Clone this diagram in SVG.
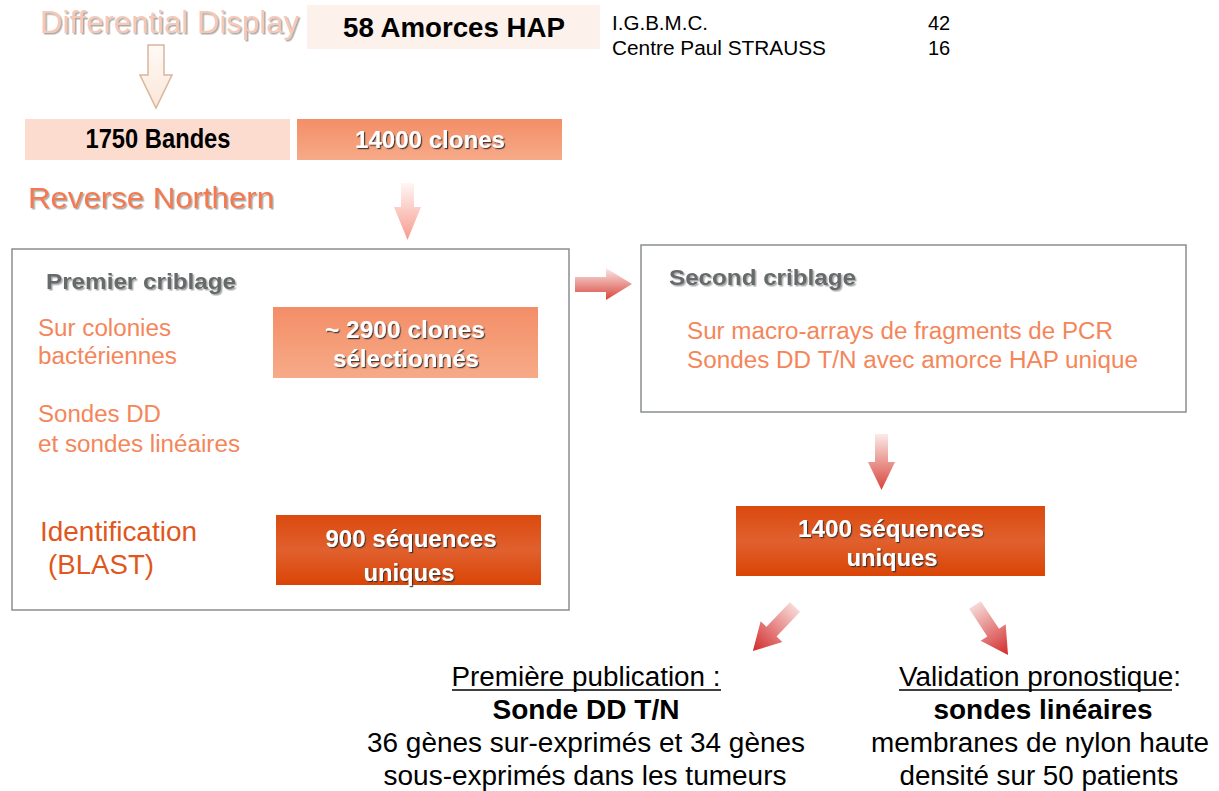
<svg xmlns="http://www.w3.org/2000/svg" width="1219" height="791" viewBox="0 0 1219 791">
<style>
text{font-family:"Liberation Sans",Arial,sans-serif}
.b{font-weight:bold}
.org{fill:#f4865a}
.hdr{fill:#666b6b;font-weight:bold;font-size:22.5px}
.wt{fill:#fff;font-weight:bold;font-size:23px;text-anchor:middle}
.blk{fill:#000;text-anchor:middle;font-size:27px}
.frame{fill:#fff;stroke:#8a8e8e;stroke-width:1.5}
</style>
<defs>
<filter id="sg" x="-5%" y="-20%" width="110%" height="150%"><feDropShadow dx="1.5" dy="1.5" stdDeviation="0.6" flood-color="#888" flood-opacity="0.7"/></filter>
<filter id="sd" x="-5%" y="-20%" width="110%" height="150%"><feDropShadow dx="1.2" dy="1.2" stdDeviation="0.6" flood-color="#333" flood-opacity="0.9"/></filter>
<linearGradient id="gLight" x1="0" y1="0" x2="0" y2="1"><stop offset="0" stop-color="#f38e67"/><stop offset="1" stop-color="#f7aa88"/></linearGradient>
<linearGradient id="gDark" x1="0" y1="0" x2="0" y2="1"><stop offset="0" stop-color="#db4a0e"/><stop offset="0.5" stop-color="#e0602e"/><stop offset="1" stop-color="#da4405"/></linearGradient>
<linearGradient id="aPale" x1="0" y1="0" x2="0" y2="1"><stop offset="0" stop-color="#fff6f4"/><stop offset="1" stop-color="#f79a8e"/></linearGradient>
<linearGradient id="aRed" x1="0" y1="0" x2="0" y2="1"><stop offset="0" stop-color="#fbeae7"/><stop offset="1" stop-color="#d8443c"/></linearGradient>
<linearGradient id="aRed2" x1="0" y1="0" x2="0" y2="1"><stop offset="0" stop-color="#f6d8d6"/><stop offset="1" stop-color="#d22a2a"/></linearGradient>
<linearGradient id="aHollow" x1="0" y1="0" x2="0" y2="1"><stop offset="0" stop-color="#fffaf6"/><stop offset="1" stop-color="#fbe6d8"/></linearGradient>
</defs>
<rect width="1219" height="791" fill="#fff"/>

<g id="connectors">
<polygon points="148,45 164,45 164,75 172,75 156,108 140,75 148,75" fill="url(#aHollow)" stroke="#d9b59c" stroke-width="1.5"/>
<polygon points="401,183 414,183 414,207 421,207 407.5,240 394,207 401,207" fill="url(#aPale)"/>
<polygon points="401,425 414,425 414,455 421,455 407.5,482 394,455 401,455" fill="url(#aRed)"/>
<polygon points="875,434 888,434 888,462 895,462 881.5,490 868,462 875,462" fill="url(#aRed)"/>
<polygon points="575,277 606,277 606,268 632,284 606,300 606,292 575,292" fill="url(#aRed)"/>
<polygon points="-7,0 7,0 7,34 15,34 0,61 -15,34 -7,34" fill="url(#aRed2)" transform="translate(795,607) rotate(43.7)"/>
<polygon points="-7,0 7,0 7,33 15,33 0,60 -15,33 -7,33" fill="url(#aRed2)" transform="translate(975,605) rotate(-33.4)"/>
</g>

<g id="differential-display">
<text x="40" y="33" font-size="31" fill="#f6c8b6" filter="url(#sg)" textLength="259" lengthAdjust="spacingAndGlyphs">Differential Display</text>
</g>

<g id="amorces">
<rect x="307" y="5" width="293" height="44" fill="#fdf1ec"/>
<text x="454" y="37" class="blk b" font-size="27" textLength="222" lengthAdjust="spacingAndGlyphs">58 Amorces HAP</text>
</g>

<g id="sources" font-size="20" fill="#000">
<text x="612" y="30" textLength="96" lengthAdjust="spacingAndGlyphs">I.G.B.M.C.</text>
<text x="928" y="30">42</text>
<text x="612" y="55" textLength="214" lengthAdjust="spacingAndGlyphs">Centre Paul STRAUSS</text>
<text x="928" y="55">16</text>
</g>

<g id="bandes">
<rect x="25" y="119" width="265" height="41" fill="#fcdccf"/>
<text x="158" y="148" class="blk b" font-size="23" textLength="145" lengthAdjust="spacingAndGlyphs">1750 Bandes</text>
</g>

<g id="clones14000">
<rect x="297" y="119" width="265" height="41" fill="url(#gLight)"/>
<text x="430" y="148" class="wt" font-size="23" filter="url(#sd)" textLength="150" lengthAdjust="spacingAndGlyphs">14000 clones</text>
</g>

<g id="reverse-northern">
<text x="28" y="208" font-size="30" fill="#f47a4e" filter="url(#sg)" textLength="246" lengthAdjust="spacingAndGlyphs">Reverse Northern</text>
</g>

<g id="premier-criblage">
<rect x="12" y="249" width="557" height="361" class="frame"/>
<text x="46" y="289" class="hdr" filter="url(#sg)" textLength="190" lengthAdjust="spacingAndGlyphs">Premier criblage</text>
<g class="org" font-size="23.5">
<text x="38" y="336" textLength="133" lengthAdjust="spacingAndGlyphs">Sur colonies</text>
<text x="38" y="364" textLength="139" lengthAdjust="spacingAndGlyphs">bactériennes</text>
<text x="38" y="422" textLength="123" lengthAdjust="spacingAndGlyphs">Sondes DD</text>
<text x="38" y="452" textLength="202" lengthAdjust="spacingAndGlyphs">et sondes linéaires</text>
</g>
<g fill="#e0571d" font-size="28">
<text x="40" y="541" textLength="157" lengthAdjust="spacingAndGlyphs">Identification</text>
<text x="48" y="574" textLength="106" lengthAdjust="spacingAndGlyphs">(BLAST)</text>
</g>
</g>

<g id="clones2900">
<rect x="273" y="307" width="265" height="71" fill="url(#gLight)"/>
<text x="405" y="338" class="wt" filter="url(#sd)" textLength="160" lengthAdjust="spacingAndGlyphs">~ 2900 clones</text>
<text x="406" y="367" class="wt" filter="url(#sd)" textLength="146" lengthAdjust="spacingAndGlyphs">sélectionnés</text>
</g>

<g id="seq900">
<rect x="276" y="515" width="265" height="70" fill="url(#gDark)"/>
<text x="411" y="547" class="wt" filter="url(#sd)" textLength="171" lengthAdjust="spacingAndGlyphs">900 séquences</text>
<text x="409" y="581" class="wt" filter="url(#sd)" textLength="91" lengthAdjust="spacingAndGlyphs">uniques</text>
</g>

<g id="second-criblage">
<rect x="641" y="245" width="545" height="167" class="frame"/>
<text x="669" y="285" class="hdr" filter="url(#sg)" textLength="187" lengthAdjust="spacingAndGlyphs">Second criblage</text>
<g class="org" font-size="23.5">
<text x="687" y="339" textLength="426" lengthAdjust="spacingAndGlyphs">Sur macro-arrays de fragments de PCR</text>
<text x="687" y="368" textLength="451" lengthAdjust="spacingAndGlyphs">Sondes DD T/N avec amorce HAP unique</text>
</g>
</g>

<g id="seq1400">
<rect x="736" y="506" width="309" height="70" fill="url(#gDark)"/>
<text x="891" y="537" class="wt" filter="url(#sd)" textLength="186" lengthAdjust="spacingAndGlyphs">1400 séquences</text>
<text x="892" y="566" class="wt" filter="url(#sd)" textLength="91" lengthAdjust="spacingAndGlyphs">uniques</text>
</g>

<g id="publication">
<text x="586" y="686" class="blk" textLength="269" lengthAdjust="spacingAndGlyphs">Première publication :</text>
<line x1="452" y1="690" x2="721" y2="690" stroke="#000" stroke-width="1.5"/>
<text x="586" y="719" class="blk b" textLength="187" lengthAdjust="spacingAndGlyphs">Sonde DD T/N</text>
<text x="586" y="752" class="blk" textLength="438" lengthAdjust="spacingAndGlyphs">36 gènes sur-exprimés et 34 gènes</text>
<text x="585" y="785" class="blk" textLength="403" lengthAdjust="spacingAndGlyphs">sous-exprimés dans les tumeurs</text>
</g>

<g id="validation">
<text x="1040" y="686" class="blk" textLength="282" lengthAdjust="spacingAndGlyphs">Validation pronostique:</text>
<line x1="899" y1="690" x2="1172" y2="690" stroke="#000" stroke-width="1.5"/>
<text x="1043" y="719" class="blk b" textLength="219" lengthAdjust="spacingAndGlyphs">sondes linéaires</text>
<text x="1040" y="752" class="blk" textLength="338" lengthAdjust="spacingAndGlyphs">membranes de nylon haute</text>
<text x="1039" y="785" class="blk" textLength="279" lengthAdjust="spacingAndGlyphs">densité sur 50 patients</text>
</g>
</svg>
